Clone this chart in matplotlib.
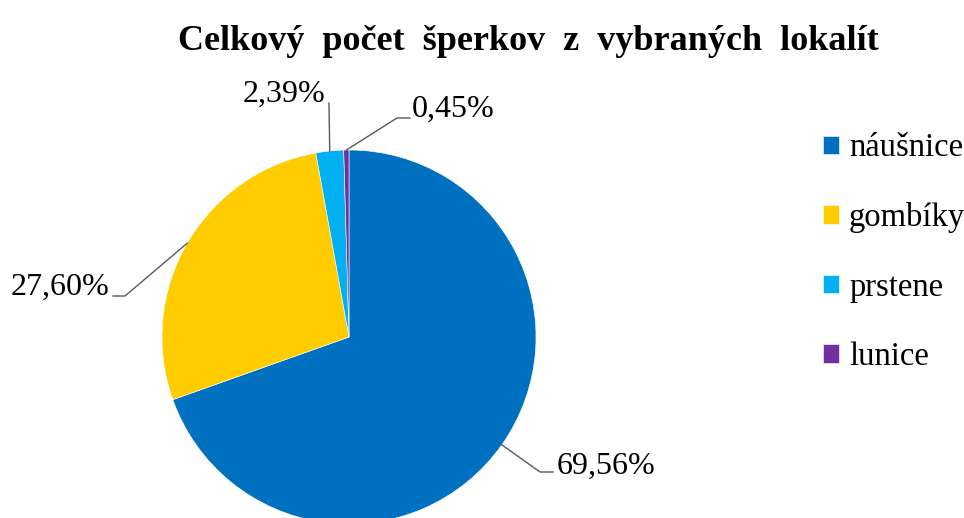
import numpy as np
import matplotlib
matplotlib.use('Agg')
import matplotlib.pyplot as plt

# Dáta
kategorie = ['náušnice', 'gombíky', 'prstene', 'lunice']
podiely = [69.56, 27.60, 2.39, 0.45]
popisky = ['69,56%', '27,60%', '2,39%', '0,45%']
farby = ['#0070C0', '#FFCC00', '#00B0F0', '#7030A0']

plt.rcParams['font.family'] = ['Liberation Serif', 'DejaVu Serif']

W, H = 964, 518
fig = plt.figure(figsize=(W / 100, H / 100), dpi=100)
ax = fig.add_axes([0, 0, 1, 1])

cx, cy, r = 349, H - 337, 187
wedges, _ = ax.pie(podiely, colors=farby, startangle=90, counterclock=False,
                   center=(cx, cy), radius=r, frame=True,
                   wedgeprops=dict(edgecolor='white', linewidth=0.4))
ax.set_xlim(0, W)
ax.set_ylim(0, H)
ax.set_aspect('equal')
ax.axis('off')

# Vodiace čiary a popisky (pozície v pixeloch, y odspodu)
lomy = [[(540, H - 472), (553, H - 472)],
        [(125, H - 296), (113, H - 296)],
        [(329, H - 103)],
        [(397, H - 118), (410, H - 118)]]
texty = [(557, H - 474, 'left'),
         (109, H - 295, 'right'),
         (325, H - 102, 'right'),
         (412, H - 117, 'left')]

for w, lom, (tx, ty, ha), lab in zip(wedges, lomy, texty, popisky):
    uhol = np.deg2rad((w.theta1 + w.theta2) / 2)
    body = [(cx + r * np.cos(uhol), cy + r * np.sin(uhol))] + lom
    xs, ys = zip(*body)
    ax.plot(xs, ys, color='#595959', lw=1.0)
    ax.text(tx, ty, lab, ha=ha, va='baseline', fontsize=23)

fig.text(528 / W, 1 - 50 / H, 'Celkový  počet  šperkov  z  vybraných  lokalít',
         ha='center', va='baseline', fontsize=26, fontweight='bold')

ax.legend(wedges, kategorie, loc='upper left', bbox_to_anchor=(823 / W, 1 - 133 / H),
          fontsize=23.5, frameon=False, handlelength=0.5, handleheight=0.5,
          handletextpad=0.3, labelspacing=1.19, borderaxespad=0, borderpad=0)

fig.savefig('out.png', dpi=100)
